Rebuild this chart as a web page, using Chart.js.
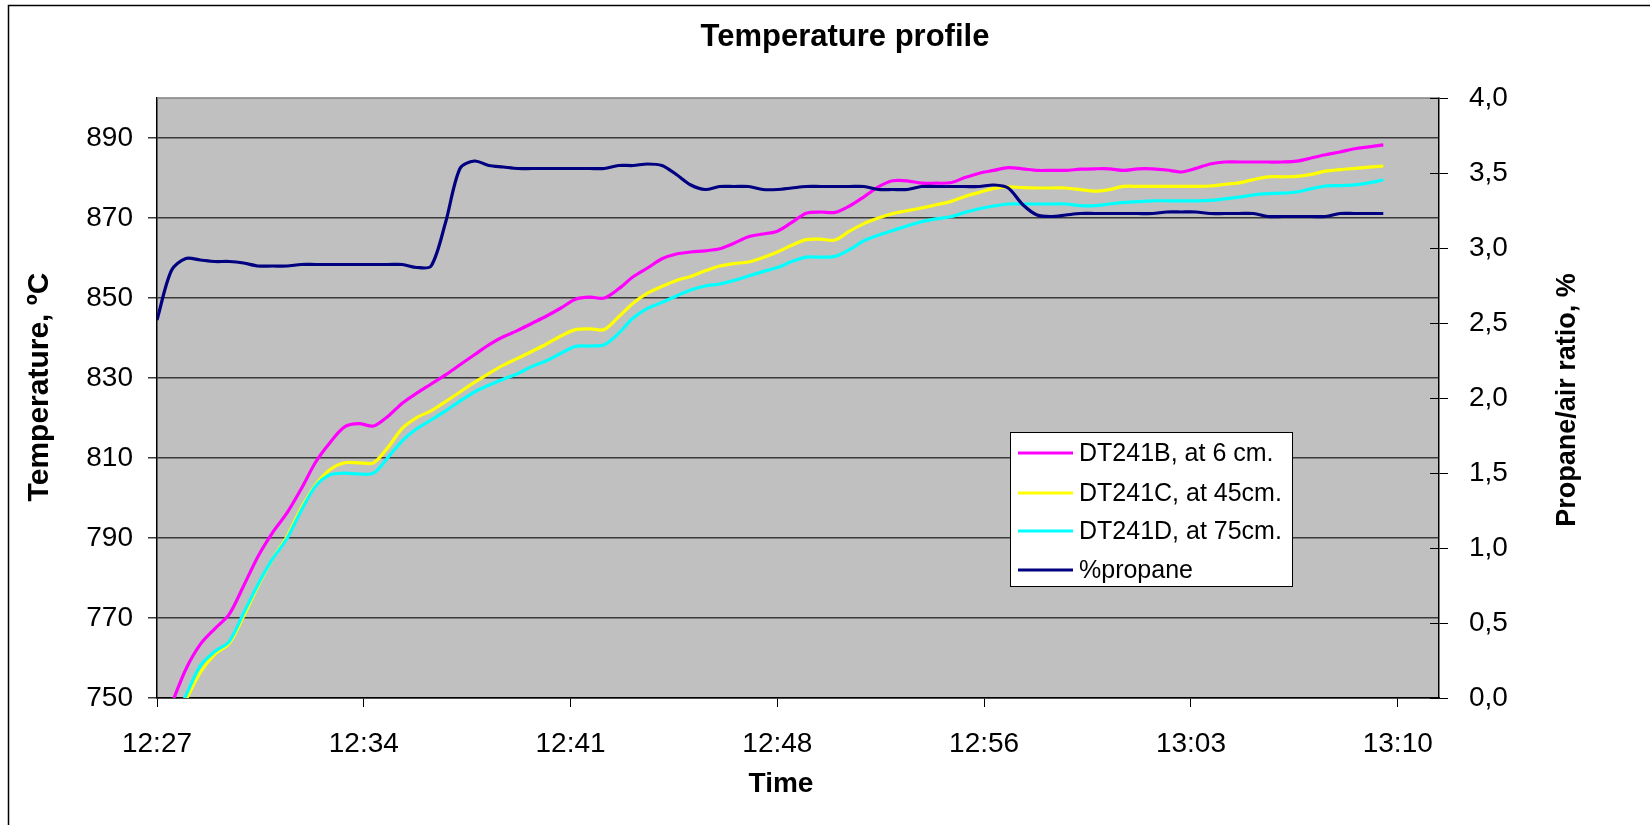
<!DOCTYPE html>
<html>
<head>
<meta charset="utf-8">
<script src="https://cdn.jsdelivr.net/npm/chart.js@4.4.1/dist/chart.umd.min.js"></script>
<style>
  html, body { margin:0; padding:0; background:#fff; }
  #wrap { width:1650px; height:825px; }
</style>
</head>
<body>
<div id="wrap"><canvas id="chart" width="1650" height="825"></canvas></div>
<script>
/* =======================
   DATA
======================= */
// minutes after 12:27
const minutes = [
  0,0.5,1,1.5,2,2.5,3,3.5,4,4.5,5,5.5,6,6.5,7,7.5,8,8.5,9,9.5,
  10,10.5,11,11.5,12,12.5,13,13.5,14,14.5,15,15.5,16,16.5,17,17.5,18,18.5,19,19.5,
  20,20.5,21,21.5,22,22.5,23,23.5,24,24.5,25,25.5,26,26.5,27,27.5,28,28.5,29,29.5,
  30,30.5,31,31.5,32,32.5,33,33.5,34,34.5,35,35.5,36,36.5,37,37.5,38,38.5,39,39.5,
  40,40.5,41,41.5,42,42.5
];

const dt241b = [
  740,748.4,757.2,763.4,767.3,770.9,778.0,785.4,791.3,796.2,802.3,809.0,813.9,817.8,818.6,818.0,820.4,823.7,826.2,828.5,
  830.8,833.3,835.8,838.3,840.3,841.9,843.7,845.5,847.5,849.7,850.2,850.0,852.3,855.3,857.5,859.8,861.0,861.5,861.8,862.3,
  863.7,865.3,866.0,866.7,868.9,871.2,871.5,871.4,873.0,875.3,877.8,879.3,879.3,878.7,878.7,878.8,880.1,881.2,881.9,882.6,
  882.3,881.9,881.9,881.9,882.2,882.3,882.3,881.9,882.3,882.3,882.0,881.5,882.4,883.5,884.0,884.0,884.0,884.0,884.0,884.2,
  885.0,885.8,886.5,887.3,887.8,888.3
];

const dt241c = [
  735,742.1,749.4,756.4,760.9,763.6,770.4,778.0,784.7,790.3,797.5,803.3,807.1,808.8,808.8,808.8,812.6,817.4,820.1,821.8,
  824.1,826.5,828.9,831.1,833.2,834.9,836.7,838.5,840.5,842.1,842.3,842.1,845.3,848.7,851.2,852.9,854.4,855.4,856.8,858.0,
  858.6,859.0,860.1,861.5,863.2,864.6,864.7,864.5,866.7,868.6,870.0,871.1,871.8,872.5,873.3,874.1,875.4,876.4,877.4,877.8,
  877.6,877.5,877.5,877.5,877.1,876.7,877.1,877.9,877.9,877.9,877.9,877.9,877.9,878.0,878.4,878.8,879.6,880.3,880.3,880.4,
  880.9,881.7,882.1,882.4,882.7,883.0
];

const dt241d = [
  735,742.6,750.6,758.0,761.6,764.1,771.2,778.4,784.7,789.8,796.9,803.0,805.8,806.2,806.0,806.2,810.1,814.3,817.3,819.5,
  821.8,824.2,826.5,828.2,829.7,831.1,832.9,834.3,836.2,837.9,838.0,838.3,841.2,845.0,847.4,848.9,850.5,852.0,853.0,853.5,
  854.4,855.5,856.6,857.6,859.1,860.2,860.2,860.4,862.1,864.3,865.7,866.9,868.0,869.1,869.8,870.3,871.4,872.3,873.0,873.5,
  873.5,873.5,873.5,873.5,873.1,873.1,873.5,873.9,874.1,874.3,874.3,874.3,874.3,874.4,874.8,875.2,875.8,876.1,876.2,876.5,
  877.3,878.0,878.1,878.3,878.8,879.5
];

const propane = [
  2.52,2.85,2.93,2.92,2.91,2.91,2.90,2.88,2.88,2.88,2.89,2.89,2.89,2.89,2.89,2.89,2.89,2.89,2.87,2.88,
  3.17,3.53,3.58,3.55,3.54,3.53,3.53,3.53,3.53,3.53,3.53,3.53,3.55,3.55,3.56,3.55,3.49,3.42,3.39,3.41,
  3.41,3.41,3.39,3.39,3.40,3.41,3.41,3.41,3.41,3.41,3.39,3.39,3.39,3.41,3.41,3.41,3.41,3.41,3.42,3.40,
  3.29,3.22,3.21,3.22,3.23,3.23,3.23,3.23,3.23,3.23,3.24,3.24,3.24,3.23,3.23,3.23,3.23,3.21,3.21,3.21,
  3.21,3.21,3.23,3.23,3.23,3.23
];

const seriesNames = ['DT241B, at 6 cm.', 'DT241C, at 45cm.', 'DT241D, at 75cm.', '%propane'];
const seriesColors = ['#FF00FF', '#FFFF00', '#00FFFF', '#000080'];

const timeLabels = ['12:27','12:34','12:41','12:48','12:56','13:03','13:10'];
const timeStep = 43 / 6;     // minutes between time labels
const timeMax = 44.43;       // axis end, a bit past 13:10
const tempTicks = [750,770,790,810,830,850,870,890];
const ratioTicks = [0,0.5,1,1.5,2,2.5,3,3.5,4];
const ratioLabels = ['0,0','0,5','1,0','1,5','2,0','2,5','3,0','3,5','4,0'];

/* =======================
   CHART
======================= */
const FONT = "'Liberation Sans', Arial, sans-serif";

function pts(arr){
  return arr.map((v,i)=>({x: minutes[i], y: v}));
}

// grey plot area + outer frame + titles + legend box
const decor = {
  id: 'decor',
  beforeDraw(chart){
    const {ctx, chartArea:a} = chart;
    ctx.save();
    ctx.fillStyle = '#C0C0C0';
    ctx.fillRect(a.left, a.top, a.right - a.left, a.bottom - a.top);
    ctx.restore();
  },
  afterDraw(chart){
    const {ctx, chartArea:a} = chart;
    ctx.save();
    // plot border (top edge)
    ctx.strokeStyle = '#808080';
    ctx.lineWidth = 1.5;
    ctx.beginPath();
    ctx.moveTo(a.left, a.top); ctx.lineTo(a.right, a.top);
    ctx.stroke();

    // right axis ticks also poke inside the plot
    const y1 = chart.scales.y1;
    ctx.strokeStyle = '#000';
    ctx.lineWidth = 1;
    y1.ticks.forEach(t => {
      const py = Math.round(y1.getPixelForValue(t.value)) + 0.5;
      ctx.beginPath();
      ctx.moveTo(a.right - 9, py); ctx.lineTo(a.right, py);
      ctx.stroke();
    });

    // outer chart frame
    ctx.strokeStyle = '#000';
    ctx.lineWidth = 1.5;
    ctx.strokeRect(8.5, 5.5, 1800, 1000);

    // titles
    ctx.fillStyle = '#000';
    ctx.textAlign = 'center';
    ctx.textBaseline = 'middle';
    ctx.font = "bold 31px " + FONT;
    ctx.fillText('Temperature profile', 845, 37);
    ctx.font = "bold 28px " + FONT;
    ctx.fillText('Time', 781, 784);

    ctx.save();
    ctx.translate(40, 387);
    ctx.rotate(-Math.PI/2);
    ctx.font = "bold 30px " + FONT;
    ctx.fillText('Temperature, ºC', 0, 0);
    ctx.restore();

    ctx.save();
    ctx.translate(1568, 400);
    ctx.rotate(-Math.PI/2);
    ctx.font = "bold 27px " + FONT;
    ctx.fillText('Propane/air ratio, %', 0, 0);
    ctx.restore();

    // legend
    const lx = 1010, ly = 432, lw = 282, lh = 154;
    ctx.fillStyle = '#fff';
    ctx.fillRect(lx, ly, lw, lh);
    ctx.strokeStyle = '#000';
    ctx.lineWidth = 1;
    ctx.strokeRect(lx + 0.5, ly + 0.5, lw, lh);
    ctx.font = "25px " + FONT;
    ctx.textAlign = 'left';
    const rows = [453, 493, 531, 570];
    chart.data.datasets.forEach((ds, i) => {
      ctx.strokeStyle = ds.borderColor;
      ctx.lineWidth = 3;
      ctx.beginPath();
      ctx.moveTo(1018, rows[i]); ctx.lineTo(1073, rows[i]);
      ctx.stroke();
      ctx.fillStyle = '#000';
      ctx.fillText(ds.label, 1079, rows[i] + 1);
    });
    ctx.restore();
  }
};

const tickFont = { family: FONT, size: 28 };

new Chart(document.getElementById('chart'), {
  type: 'line',
  data: {
    datasets: [
      { label: seriesNames[0], data: pts(dt241b), borderColor: seriesColors[0], yAxisID: 'y', order: 4 },
      { label: seriesNames[1], data: pts(dt241c), borderColor: seriesColors[1], yAxisID: 'y', order: 3 },
      { label: seriesNames[2], data: pts(dt241d), borderColor: seriesColors[2], yAxisID: 'y', order: 2 },
      { label: seriesNames[3], data: pts(propane), borderColor: seriesColors[3], yAxisID: 'y1', order: 1 }
    ]
  },
  options: {
    responsive: false,
    animation: false,
    events: [],
    layout: { padding: { top: 98, left: 0, right: 0, bottom: 0 } },
    elements: {
      line: { borderWidth: 3.2, tension: 0.3, fill: false },
      point: { radius: 0 }
    },
    plugins: {
      legend: { display: false },
      title: { display: false },
      tooltip: { enabled: false }
    },
    scales: {
      x: {
        type: 'linear',
        position: 'bottom',
        min: 0,
        max: timeMax,
        afterBuildTicks: s => { s.ticks = timeLabels.map((t,i)=>({ value: i * timeStep })); },
        afterFit: s => { s.height = 127; },
        ticks: {
          callback: (v, i) => timeLabels[i],
          font: tickFont, color: '#000', padding: 20, maxRotation: 0, autoSkip: false
        },
        grid: { drawOnChartArea: false, tickLength: 9, color: '#000', lineWidth: 1 },
        border: { color: '#000', width: 1.5 }
      },
      y: {
        position: 'left',
        min: 750,
        max: 900,
        afterBuildTicks: s => { s.ticks = tempTicks.map(v => ({ value: v })); },
        afterFit: s => { s.width = 157; },
        ticks: { font: tickFont, color: '#000', padding: 15 },
        grid: { color: '#3a3a3a', lineWidth: 1.5, tickLength: 9 },
        border: { color: '#000', width: 1.5 }
      },
      y1: {
        position: 'right',
        min: 0,
        max: 4,
        afterBuildTicks: s => { s.ticks = ratioTicks.map(v => ({ value: v })); },
        afterFit: s => { s.width = 211; },
        ticks: {
          callback: (v, i) => ratioLabels[i],
          font: tickFont, color: '#000', padding: 21
        },
        grid: { drawOnChartArea: false, tickLength: 9, color: '#000', lineWidth: 1 },
        border: { color: '#000', width: 1.5 }
      }
    }
  },
  plugins: [decor]
});
</script>
</body>
</html>
